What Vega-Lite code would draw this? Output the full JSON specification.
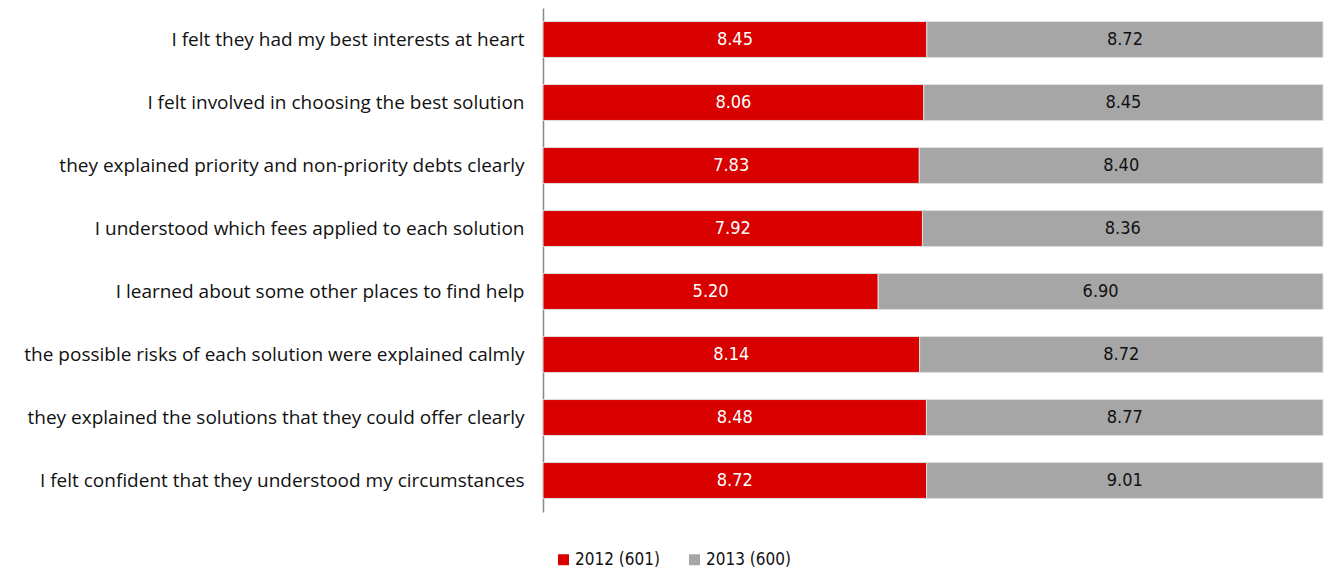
{
  "$schema": "https://vega.github.io/schema/vega-lite/v6.json",
  "width": 780,
  "height": 504,
  "autosize": "none",
  "padding": {"left": 543, "top": 8, "right": 6, "bottom": 59},
  "background": "white",
  "config": {"view": {"stroke": null}},
  "data": {
    "values": [
      {"q": "I felt they had my best interests at heart", "series": "2012 (601)", "o": 1, "value": 8.45},
      {"q": "I felt they had my best interests at heart", "series": "2013 (600)", "o": 2, "value": 8.72},
      {"q": "I felt involved in choosing the best solution", "series": "2012 (601)", "o": 1, "value": 8.06},
      {"q": "I felt involved in choosing the best solution", "series": "2013 (600)", "o": 2, "value": 8.45},
      {"q": "they explained priority and non-priority debts clearly", "series": "2012 (601)", "o": 1, "value": 7.83},
      {"q": "they explained priority and non-priority debts clearly", "series": "2013 (600)", "o": 2, "value": 8.40},
      {"q": "I understood which fees applied to each solution", "series": "2012 (601)", "o": 1, "value": 7.92},
      {"q": "I understood which fees applied to each solution", "series": "2013 (600)", "o": 2, "value": 8.36},
      {"q": "I learned about some other places to find help", "series": "2012 (601)", "o": 1, "value": 5.20},
      {"q": "I learned about some other places to find help", "series": "2013 (600)", "o": 2, "value": 6.90},
      {"q": "the possible risks of each solution were explained calmly", "series": "2012 (601)", "o": 1, "value": 8.14},
      {"q": "the possible risks of each solution were explained calmly", "series": "2013 (600)", "o": 2, "value": 8.72},
      {"q": "they explained the solutions that they could offer clearly", "series": "2012 (601)", "o": 1, "value": 8.48},
      {"q": "they explained the solutions that they could offer clearly", "series": "2013 (600)", "o": 2, "value": 8.77},
      {"q": "I felt confident that they understood my circumstances", "series": "2012 (601)", "o": 1, "value": 8.72},
      {"q": "I felt confident that they understood my circumstances", "series": "2013 (600)", "o": 2, "value": 9.01}
    ]
  },
  "transform": [
    {"stack": "value", "groupby": ["q"], "sort": [{"field": "o", "order": "ascending"}], "offset": "normalize", "as": ["x0", "x1"]},
    {"calculate": "(datum.x0 + datum.x1) / 2", "as": "mid"}
  ],
  "encoding": {
    "y": {
      "field": "q", "type": "nominal", "sort": null,
      "scale": {"paddingInner": 0.43, "paddingOuter": 0.215},
      "axis": {
        "title": null, "ticks": false, "domainColor": "#888888", "domainWidth": 1.5,
        "labelFont": "Open Sans", "labelFontSize": 19, "labelColor": "#111111",
        "labelPadding": 19, "labelLimit": 600
      }
    }
  },
  "layer": [
    {
      "mark": {"type": "bar", "stroke": "#dddddd", "strokeWidth": 1},
      "encoding": {
        "x": {"field": "x0", "type": "quantitative", "scale": {"domain": [0, 1], "nice": false}, "axis": null},
        "x2": {"field": "x1"},
        "color": {
          "field": "series", "type": "nominal",
          "scale": {"domain": ["2012 (601)", "2013 (600)"], "range": ["#D90000", "#A6A6A6"]},
          "legend": {
            "title": null, "orient": "none", "direction": "horizontal",
            "legendX": 12, "legendY": 543,
            "symbolType": "square", "symbolSize": 120, "symbolStrokeWidth": 0,
            "labelFont": "DejaVu Sans Condensed", "labelFontSize": 17, "labelColor": "#111111",
            "columnPadding": 26, "labelOffset": 3
          }
        }
      }
    },
    {
      "mark": {"type": "text", "font": "DejaVu Sans Condensed", "fontSize": 18, "baseline": "middle", "align": "center"},
      "encoding": {
        "x": {"field": "mid", "type": "quantitative", "scale": {"domain": [0, 1], "nice": false}, "axis": null},
        "text": {"field": "value", "type": "quantitative", "format": ".2f"},
        "color": {
          "field": "series", "type": "nominal",
          "scale": {"domain": ["2012 (601)", "2013 (600)"], "range": ["#ffffff", "#111111"]},
          "legend": null
        }
      }
    }
  ],
  "resolve": {"scale": {"color": "independent"}}
}
